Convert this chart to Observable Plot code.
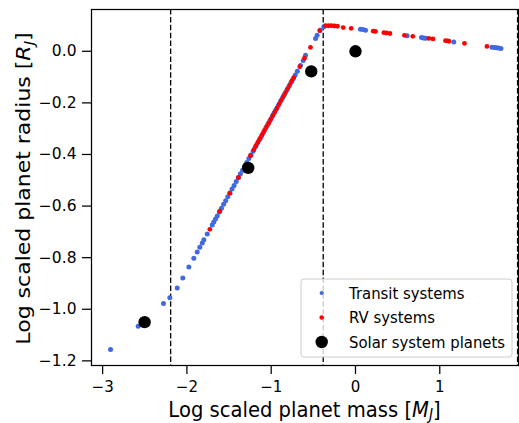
<!DOCTYPE html>
<html><head><meta charset="utf-8">
<script src="https://cdn.jsdelivr.net/npm/d3@7"></script>
<script src="https://cdn.jsdelivr.net/npm/@observablehq/plot@0.6"></script>
<style>
body{margin:0;background:#fff;}
#chart svg{font-family:"DejaVu Sans",sans-serif;}
</style>
</head><body><div id="chart"></div>
<script>
const transitMass = [-2.906,-2.578,-2.278,-2.203,-2.115,-2.049,-1.977,-1.918,-1.878,-1.847,-1.818,-1.799,-1.759,-1.700,-1.681,-1.661,-1.640,-1.615,-1.590,-1.565,-1.540,-1.515,-1.490,-1.465,-1.440,-1.415,-1.390,-1.365,-1.340,-1.315,-1.290,-1.265,-1.240,-1.215,-1.190,-1.165,-1.140,-1.115,-1.090,-1.065,-1.040,-1.015,-0.990,-0.965,-0.940,-0.915,-0.890,-0.865,-0.840,-0.815,-0.790,-0.765,-0.740,-0.715,-0.690,-0.652,-0.620,-0.593,-0.474,-0.455,-0.420,-0.376,0.059,0.089,0.119,0.613,0.783,0.807,0.830,1.166,1.619,1.649,1.673,1.696,1.726];
const transitRadius = [-1.156,-1.066,-0.978,-0.955,-0.918,-0.879,-0.836,-0.802,-0.778,-0.760,-0.743,-0.731,-0.708,-0.673,-0.662,-0.650,-0.638,-0.623,-0.608,-0.593,-0.579,-0.564,-0.549,-0.534,-0.520,-0.505,-0.490,-0.475,-0.461,-0.446,-0.431,-0.416,-0.402,-0.387,-0.372,-0.357,-0.343,-0.328,-0.313,-0.298,-0.284,-0.269,-0.254,-0.239,-0.225,-0.210,-0.195,-0.180,-0.166,-0.151,-0.136,-0.121,-0.107,-0.092,-0.077,-0.055,-0.036,-0.015,0.050,0.062,0.082,0.095,0.085,0.084,0.082,0.060,0.053,0.052,0.051,0.036,0.016,0.015,0.014,0.013,0.011];
const rvMass = [-1.728,-1.610,-1.491,-1.388,-1.305,-1.246,-1.206,-1.180,-1.155,-1.130,-1.105,-1.080,-1.055,-1.030,-1.005,-0.980,-0.955,-0.930,-0.905,-0.880,-0.855,-0.830,-0.805,-0.780,-0.755,-0.732,-0.661,-0.605,-0.534,-0.423,-0.356,-0.320,-0.285,-0.249,-0.214,-0.146,-0.051,0.210,0.237,0.336,0.368,0.409,0.581,0.680,0.870,0.919,1.068,1.091,1.109,1.293,1.560];
const rvRadius = [-0.690,-0.620,-0.550,-0.489,-0.440,-0.405,-0.382,-0.366,-0.351,-0.337,-0.322,-0.307,-0.292,-0.278,-0.263,-0.248,-0.233,-0.219,-0.204,-0.189,-0.174,-0.160,-0.145,-0.130,-0.115,-0.102,-0.060,-0.027,0.015,0.080,0.099,0.099,0.099,0.098,0.097,0.092,0.089,0.078,0.077,0.072,0.071,0.069,0.062,0.058,0.050,0.048,0.041,0.040,0.039,0.031,0.019];
const solarMass = [-2.502, -1.273, -0.525, 0.0];
const solarRadius = [-1.050, -0.452, -0.078, 0.0];
const breakpoints = [-2.193, -0.383, 1.923];
const xTicks = [-3, -2, -1, 0, 1];
const yTicks = [0, -0.2, -0.4, -0.6, -0.8, -1.0, -1.2];
const legendLabels = ["Transit systems", "RV systems", "Solar system planets"];
const legendColors = ["#4169E1", "#FF0000", "#000000"];

const transit = transitMass.map((m, i) => ({m, r: transitRadius[i]}));
const rv = rvMass.map((m, i) => ({m, r: rvRadius[i]}));
const solar = solarMass.map((m, i) => ({m, r: solarRadius[i]}));

const W = 519, H = 423;
const plot = Plot.plot({
  width: W, height: H,
  marginLeft: 91, marginRight: 1, marginTop: 9, marginBottom: 58,
  style: {fontSize: "15px", fontFamily: "DejaVu Sans, sans-serif", background: "#fff", color: "#000"},
  x: {domain: [-3.132, 1.934]},
  y: {domain: [-1.218, 0.162]},
  marks: [
    Plot.ruleX(breakpoints, {stroke: "#000", strokeWidth: 1.3, strokeDasharray: "5.5,2.4"}),
    Plot.dot(transit, {x: "m", y: "r", r: 2.5, fill: legendColors[0], stroke: "none"}),
    Plot.dot(rv, {x: "m", y: "r", r: 2.4, fill: legendColors[1], stroke: "none"}),
    Plot.dot(solar, {x: "m", y: "r", r: 6.2, fill: legendColors[2], stroke: "none"}),
    Plot.frame({stroke: "#000", strokeWidth: 1.25}),
    Plot.axisX({ticks: xTicks, tickSize: 9, tickPadding: 7, strokeWidth: 1.25, tickFormat: d3.format("d"), label: null, fontSize: 15}),
    Plot.axisY({ticks: yTicks, tickSize: 9, tickPadding: 6, strokeWidth: 1.25, tickFormat: d3.format(".1f"), label: null, fontSize: 15.5})
  ]
});
document.getElementById("chart").appendChild(plot);

const svg = d3.select(plot);
// axis titles
const xl = svg.append("text").attr("transform", "translate(304.5,416.5) scale(0.89,1)").attr("text-anchor", "middle")
  .attr("font-size", 22).attr("fill", "#000");
xl.append("tspan").text("Log scaled planet mass [");
xl.append("tspan").attr("font-style", "italic").text("M");
xl.append("tspan").attr("font-style", "italic").attr("font-size", 15.5).attr("dy", 3).text("J");
xl.append("tspan").attr("dy", -3).text("]");

const yl = svg.append("text").attr("transform", "translate(30,188.5) scale(0.89,1) rotate(-90)").attr("text-anchor", "middle")
  .attr("font-size", 22).attr("fill", "#000");
yl.append("tspan").text("Log scaled planet radius [");
yl.append("tspan").attr("font-style", "italic").text("R");
yl.append("tspan").attr("font-style", "italic").attr("font-size", 15).attr("dy", 4).text("J");
yl.append("tspan").attr("dy", -4).text("]");

// legend
const lg = svg.append("g").attr("text-anchor", "start");
lg.append("rect").attr("x", 301).attr("y", 279).attr("width", 211).attr("height", 78).attr("rx", 3)
  .attr("fill", "#fff").attr("fill-opacity", 0.8).attr("stroke", "#cccccc");
const rows = [293, 317.5, 342];
const radii = [2.1, 2.3, 6.2];
legendLabels.forEach((t, i) => {
  lg.append("circle").attr("cx", 321.7).attr("cy", rows[i]).attr("r", radii[i]).attr("fill", legendColors[i]);
  lg.append("text").attr("transform", `translate(349,${rows[i]}) scale(0.92,1)`).attr("dy", "0.35em").attr("text-anchor", "start")
    .attr("font-size", 16.2).attr("fill", "#000").text(t);
});
</script>
</body></html>
